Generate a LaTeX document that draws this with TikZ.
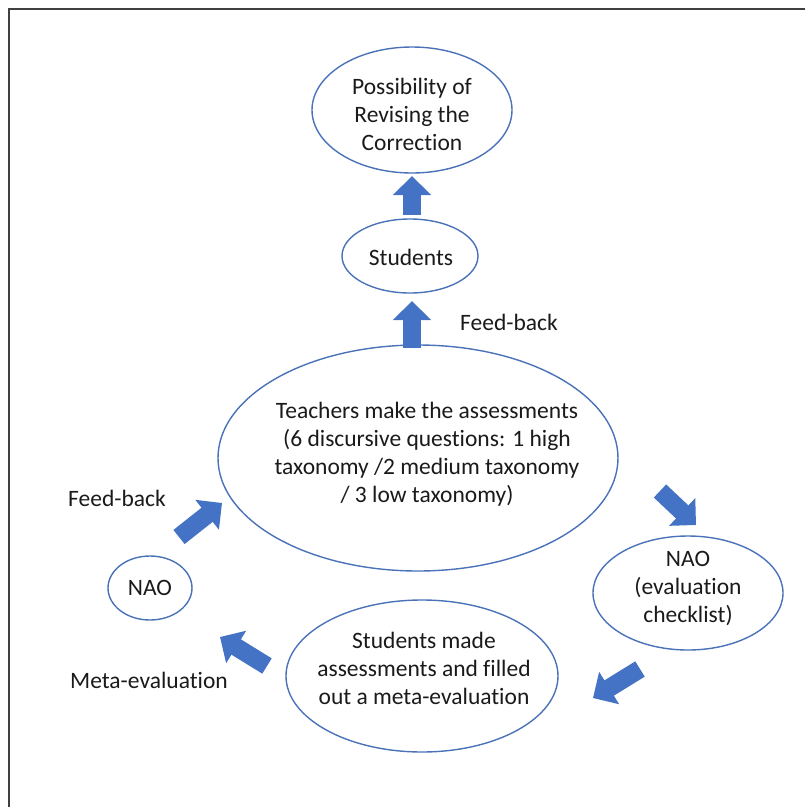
\documentclass[tikz,border=0pt]{standalone}
\usepackage{fontspec}
\setmainfont[Ligatures=NoCommon]{Carlito}
\usetikzlibrary{shapes.geometric,arrows.meta}
\definecolor{officeblue}{HTML}{4472C4}
\definecolor{rimblue}{HTML}{4A72B8}
\definecolor{inkgray}{HTML}{1A1A1A}
\definecolor{framegray}{HTML}{404040}
\begin{document}
\begin{tikzpicture}[x=1pt,y=-1pt,
  bubble/.style={ellipse,draw=rimblue,line width=1.4pt,inner sep=0pt},
  tag/.style={text=inkgray,inner sep=0pt,align=center,
    font=\fontsize{23.5}{28}\selectfont},
  blockarrow/.style={draw=officeblue,line width=18pt,line cap=butt,
    -{Triangle[width=37pt,length=19pt]}}]
\useasboundingbox (0,0) rectangle (805,807);
% frame
\draw[framegray,line width=2pt] (9,807) -- (9,9) -- (805,9);

% ellipses with their texts
\node[bubble,minimum width=200pt,minimum height=126pt,
  label={[tag,yshift=-4pt]center:Possibility of\\Revising the\\Correction}]
  (rev) at (412,110) {};
\node[bubble,minimum width=136pt,minimum height=74pt,
  label={[tag,yshift=-1pt,xshift=1pt]center:Students}]
  (stu) at (410,256) {};
\node[bubble,minimum width=400pt,minimum height=226pt,
  label={[tag,yshift=4pt,xshift=9pt]center:Teachers make the assessments\\(6 discursive questions: 1 high\\taxonomy /2 medium taxonomy\\/ 3 low taxonomy)}]
  (teach) at (418,458) {};
\node[bubble,minimum width=84pt,minimum height=64pt,
  label={[tag]center:NAO}]
  (naol) at (150,588) {};
\node[bubble,minimum width=190pt,minimum height=114pt,
  label={[tag,yshift=5pt]center:NAO\\(evaluation\\checklist)}]
  (naor) at (688,593) {};
\node[bubble,minimum width=272pt,minimum height=152pt,
  label={[tag,yshift=8pt,xshift=2pt]center:Students made\\assessments and filled\\out a meta-evaluation}]
  (made) at (422,676) {};

% free labels
\node[tag] (fb1) at (509,322) {Feed-back};
\node[tag] (fb2) at (117,498) {Feed-back};
\node[tag] (meta) at (149,680) {Meta-evaluation};

% arrow end points
\coordinate (a1s) at (412,215);  \coordinate (a1e) at (412,176);
\coordinate (a2s) at (412,348);  \coordinate (a2e) at (412,301);
\coordinate (a3s) at (660,491);  \coordinate (a3e) at (696,525);
\coordinate (a4s) at (640,669);  \coordinate (a4e) at (593,698);
\coordinate (a5s) at (267,666);  \coordinate (a5e) at (220,637);
\coordinate (a6s) at (179,537);  \coordinate (a6e) at (222,503);

% block arrows
\draw[blockarrow] (a1s) -- (a1e);
\draw[blockarrow] (a2s) -- (a2e);
\draw[blockarrow] (a3s) -- (a3e);
\draw[blockarrow] (a4s) -- (a4e);
\draw[blockarrow] (a5s) -- (a5e);
\draw[blockarrow] (a6s) -- (a6e);
\end{tikzpicture}
\end{document}
